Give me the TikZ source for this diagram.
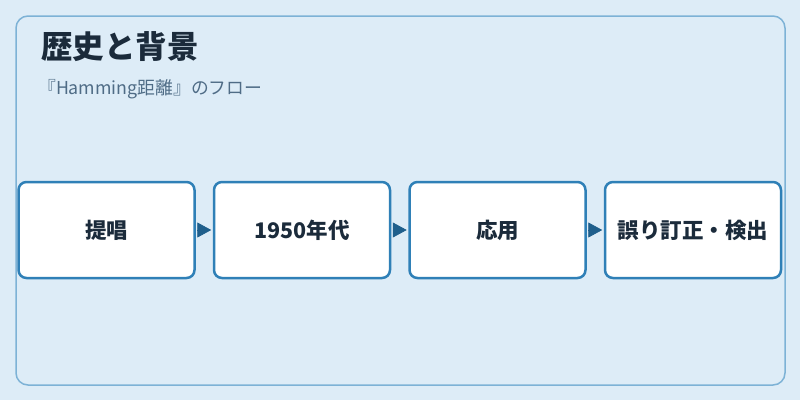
\documentclass[tikz,border=0pt]{standalone}
\usepackage{fontspec}
\setmainfont{Noto Sans CJK JP}
\usetikzlibrary{positioning,arrows.meta}
\definecolor{pagebg}{HTML}{DDECF7}
\definecolor{panelline}{HTML}{7DB2D6}
\definecolor{boxline}{HTML}{2F80B7}
\definecolor{arrowcol}{HTML}{1F5F8C}
\definecolor{titlecol}{HTML}{1B2B3B}
\definecolor{subcol}{HTML}{4F6C86}
\begin{document}
\begin{tikzpicture}[x=1pt,y=-1pt,
    stepbox/.style={draw=boxline, line width=2.5pt, fill=white, rounded corners=8pt,
      minimum width=176pt, minimum height=96pt, inner sep=0pt,
      font=\fontsize{21.5}{24}\selectfont\bfseries, text=titlecol},
    flow/.style={arrowcol, line width=0.8pt, shorten >=1.5pt, shorten <=1.5pt,
      -{Triangle[length=14pt,width=15pt]}}]
    % Define canvas size
    \def\canvasw{800}
    \def\canvash{400}

    % Draw background and panel
    \fill[pagebg] (0,0) rectangle (\canvasw,\canvash);
    \useasboundingbox (0,0) rectangle (\canvasw,\canvash);
    \draw[panelline, line width=1.5pt, rounded corners=12pt] (16,16) rectangle (785,385);

    % Title and subtitle
    \node[anchor=west, inner sep=0pt, text=titlecol,
      font=\fontsize{31.5}{34}\selectfont\bfseries] (title) at (41,47) {歴史と背景};
    \node[anchor=west, inner sep=0pt, text=subcol,
      font=\fontsize{17.8}{20}\selectfont] (subtitle) at (38,89) {『Hamming距離』のフロー};

    % Draw steps
    \node[stepbox] (proposal) at (106.5,230) {提唱};
    \node[stepbox, right=17pt of proposal] (fifties) {1950年代};
    \node[stepbox, right=17pt of fifties] (use) {応用};
    \node[stepbox, right=17pt of use] (ecc) {誤り訂正・検出};

    % Connect the steps
    \draw[flow] (proposal) -- (fifties);
    \draw[flow] (fifties) -- (use);
    \draw[flow] (use) -- (ecc);
\end{tikzpicture}
\end{document}
